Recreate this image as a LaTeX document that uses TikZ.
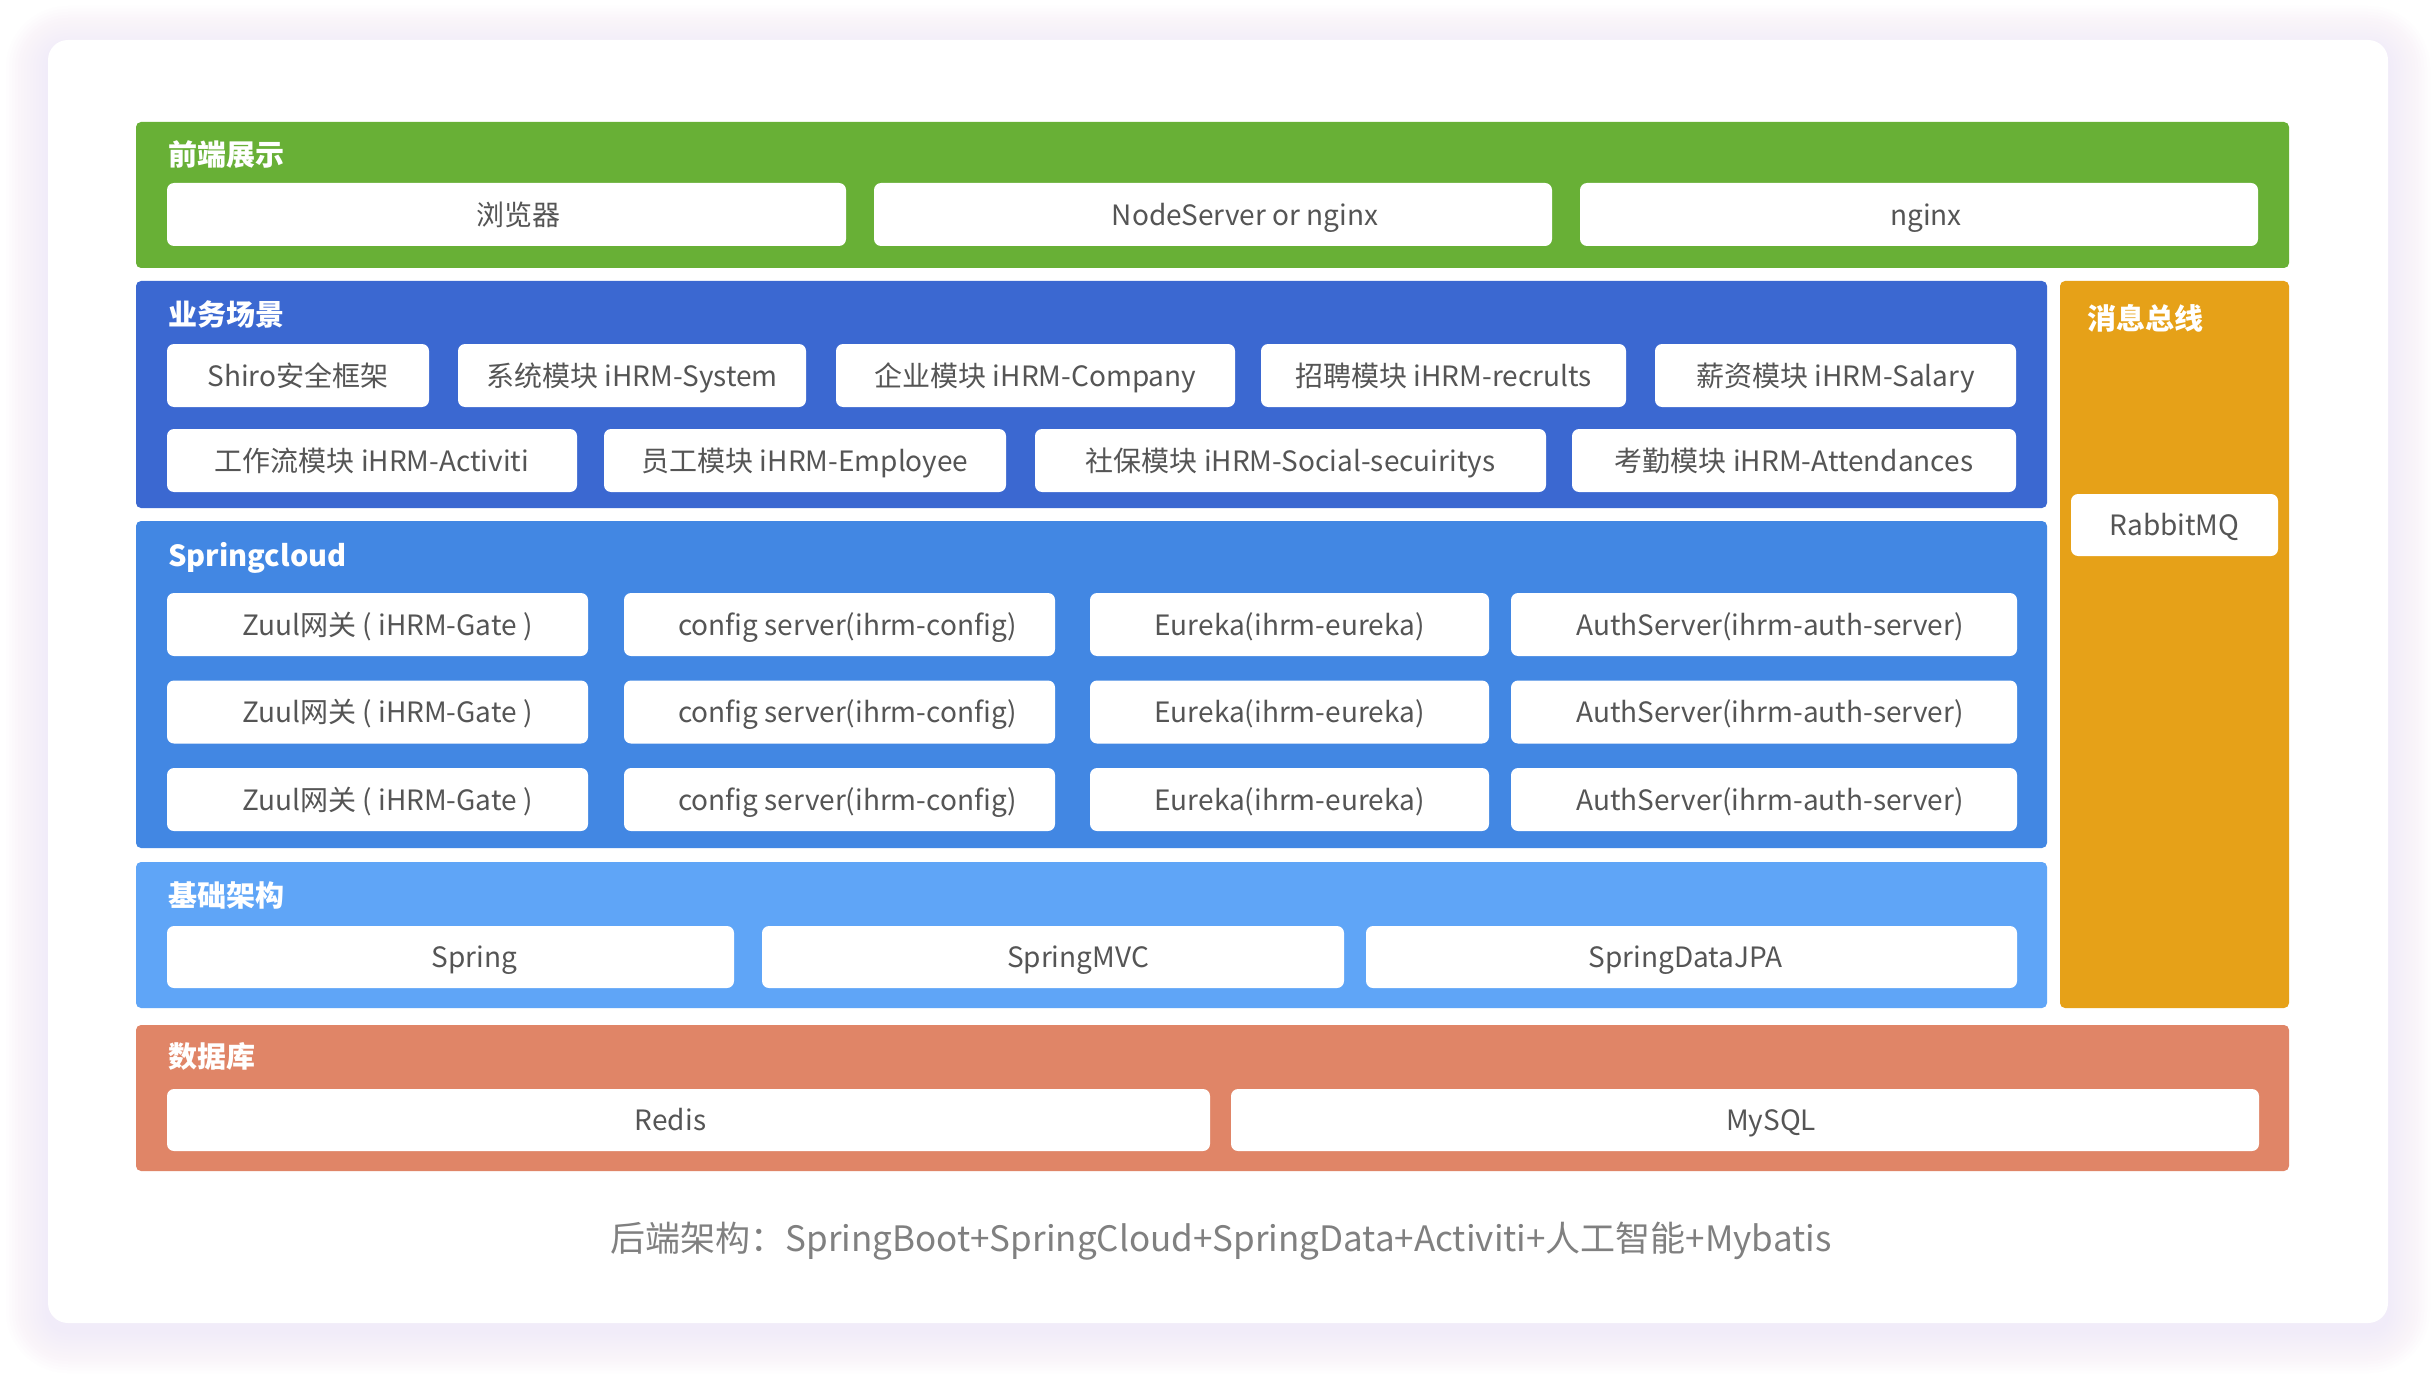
\documentclass[tikz,border=0pt]{standalone}
\usepackage{fontspec}
\setmainfont{Noto Sans CJK SC}
\usepackage{xcolor}
\definecolor{frontgreen}{HTML}{68B036}
\definecolor{bizblue}{HTML}{3B68D1}
\definecolor{cloudblue}{HTML}{4287E3}
\definecolor{baseblue}{HTML}{5FA5F7}
\definecolor{busorange}{HTML}{E6A118}
\definecolor{dbsalmon}{HTML}{E08567}
\definecolor{boxtext}{HTML}{555555}
\definecolor{notegray}{HTML}{808080}
\definecolor{shadowlilac}{HTML}{EADFF9}

\begin{document}
\begin{tikzpicture}[x=1pt,y=-1pt,
  band/.style={rounded corners=5pt},
  layertitle/.style={anchor=west,inner sep=0pt,text=white,font=\fontsize{29}{34}\selectfont\bfseries,text height=25.5pt,text depth=3.5pt},
  box/.style={fill=white,rounded corners=7pt,inner sep=0pt,minimum height=63pt,text=boxtext,font=\fontsize{28}{32}\selectfont,text height=24.6pt,text depth=3.4pt}]
\useasboundingbox (0,0) rectangle (2436,1380);
% card with soft shadow
\fill[white] (0,0) rectangle (2436,1380);
\foreach \i in {3,6,...,42} {
  \pgfmathsetmacro\rr{20+\i}
  \fill[shadowlilac,fill opacity=0.045,rounded corners=\rr pt] (48-\i,40-\i+8) rectangle (2388+\i,1323+\i+8);
}
\fill[white,rounded corners=20pt] (48,40) rectangle (2388,1323);
% layers
\fill[frontgreen,band] (136,122) rectangle (2289,268);
\fill[bizblue,band] (136,281) rectangle (2047,508);
\fill[cloudblue,band] (136,521) rectangle (2047,848);
\fill[baseblue,band] (136,862) rectangle (2047,1008);
\fill[busorange,band] (2060,281) rectangle (2289,1008);
\fill[dbsalmon,band] (136,1025) rectangle (2289,1171);
% titles
\node[layertitle] (tfront) at (168,155) {前端展示};
\node[layertitle] (tbiz) at (168,315) {业务场景};
\node[layertitle] (tcloud) at (168,555) {Springcloud};
\node[layertitle] (tbase) at (168,895) {基础架构};
\node[layertitle] (tbus) at (2087,319) {消息总线};
\node[layertitle] (tdb) at (168,1056) {数据库};
% front end
\node[box,minimum width=679pt] (fe1) at (506.5,214.5) {\hspace*{24pt}浏览器};
\node[box,minimum width=678pt] (fe2) at (1213,214.5) {\hspace*{64pt}NodeServer or nginx};
\node[box,minimum width=678pt] (fe3) at (1919,214.5) {\hspace*{14pt}nginx};
% business modules
\node[box,minimum width=262pt] (biz1) at (298,375.5) {Shiro安全框架};
\node[box,minimum width=348pt] (biz2) at (632,375.5) {系统模块 iHRM-System};
\node[box,minimum width=399pt] (biz3) at (1035.5,375.5) {企业模块 iHRM-Company};
\node[box,minimum width=365pt] (biz4) at (1443.5,375.5) {招聘模块 iHRM-recrults};
\node[box,minimum width=361pt] (biz5) at (1835.5,375.5) {薪资模块 iHRM-Salary};
\node[box,minimum width=410pt] (biz6) at (372,460.5) {工作流模块 iHRM-Activiti};
\node[box,minimum width=402pt] (biz7) at (805,460.5) {员工模块 iHRM-Employee};
\node[box,minimum width=511pt] (biz8) at (1290.5,460.5) {社保模块 iHRM-Social-secuiritys};
\node[box,minimum width=444pt] (biz9) at (1794,460.5) {考勤模块 iHRM-Attendances};
% spring cloud
\node[box,minimum width=421pt] (gate1) at (377.5,624.5) {\hspace*{20pt}Zuul网关 ( iHRM-Gate )};
\node[box,minimum width=431pt] (conf1) at (839.5,624.5) {\hspace*{16pt}config server(ihrm-config)};
\node[box,minimum width=399pt] (eur1) at (1289.5,624.5) {Eureka(ihrm-eureka)};
\node[box,minimum width=506pt] (auth1) at (1764,624.5) {\hspace*{12pt}AuthServer(ihrm-auth-server)};
\node[box,minimum width=421pt] (gate2) at (377.5,712) {\hspace*{20pt}Zuul网关 ( iHRM-Gate )};
\node[box,minimum width=431pt] (conf2) at (839.5,712) {\hspace*{16pt}config server(ihrm-config)};
\node[box,minimum width=399pt] (eur2) at (1289.5,712) {Eureka(ihrm-eureka)};
\node[box,minimum width=506pt] (auth2) at (1764,712) {\hspace*{12pt}AuthServer(ihrm-auth-server)};
\node[box,minimum width=421pt] (gate3) at (377.5,799.5) {\hspace*{20pt}Zuul网关 ( iHRM-Gate )};
\node[box,minimum width=431pt] (conf3) at (839.5,799.5) {\hspace*{16pt}config server(ihrm-config)};
\node[box,minimum width=399pt] (eur3) at (1289.5,799.5) {Eureka(ihrm-eureka)};
\node[box,minimum width=506pt] (auth3) at (1764,799.5) {\hspace*{12pt}AuthServer(ihrm-auth-server)};
% base
\node[box,minimum width=567pt,minimum height=62pt] (spring) at (450.5,957) {\hspace*{48pt}Spring};
\node[box,minimum width=582pt,minimum height=62pt] (mvc) at (1053,957) {\hspace*{50pt}SpringMVC};
\node[box,minimum width=651pt,minimum height=62pt] (jpa) at (1691.5,957) {SpringDataJPA\hspace*{12pt}};
% message bus
\node[box,minimum width=207pt,minimum height=62pt] (mq) at (2174.5,525) {RabbitMQ};
% database
\node[box,minimum width=1043pt,minimum height=62pt] (redis) at (688.5,1120) {Redis\hspace*{36pt}};
\node[box,minimum width=1028pt,minimum height=62pt] (mysql) at (1745,1120) {\hspace*{52pt}MySQL};
% caption
\node[text=notegray,font=\fontsize{35}{40}\selectfont] (note) at (1221,1241) {后端架构：SpringBoot+SpringCloud+SpringData+Activiti+人工智能+Mybatis};
\end{tikzpicture}
\end{document}
